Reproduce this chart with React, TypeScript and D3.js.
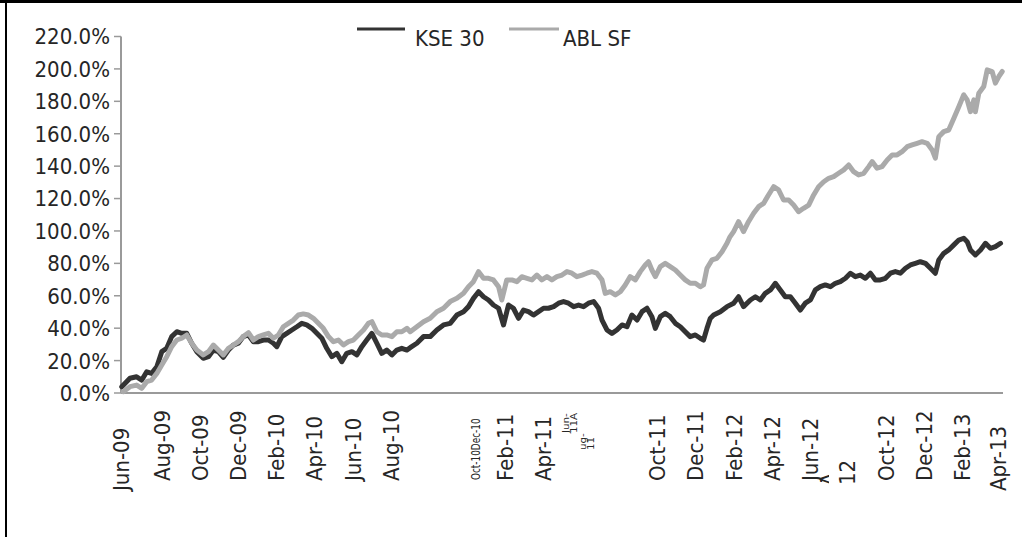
import React from "react";
import * as d3 from "d3";

// months elapsed since Jun-2009
const kseMonths = [0.04,0.47,0.82,1.09,1.35,1.61,1.88,2.14,2.40,2.66,2.93,3.19,3.45,3.71,3.98,4.32,4.59,4.85,5.11,5.37,5.64,5.90,6.16,6.42,6.69,6.95,7.21,7.47,7.74,8.00,8.18,8.44,8.70,8.97,9.23,9.49,9.75,10.02,10.28,10.54,10.80,11.07,11.33,11.59,11.85,12.12,12.38,12.64,12.90,13.17,13.43,13.69,13.95,14.22,14.48,14.74,15.01,15.18,15.53,15.88,16.23,16.58,16.93,17.28,17.63,17.98,18.24,18.50,18.77,19.03,19.29,19.55,19.82,20.08,20.34,20.60,20.87,21.13,21.39,21.65,21.92,22.18,22.44,22.71,22.97,23.23,23.49,23.76,24.02,24.28,24.54,24.81,25.07,25.25,25.51,25.77,26.03,26.30,26.56,26.82,27.09,27.35,27.61,27.87,28.05,28.31,28.57,28.83,29.10,29.36,29.62,29.88,30.15,30.41,30.58,30.76,30.93,31.11,31.46,31.81,32.16,32.42,32.68,33.04,33.30,33.56,33.82,34.09,34.35,34.61,34.87,35.14,35.40,35.66,35.92,36.19,36.45,36.71,36.97,37.24,37.50,37.76,38.03,38.29,38.55,38.81,39.08,39.34,39.60,39.86,40.13,40.39,40.65,40.91,41.18,41.44,41.70,41.96,42.23,42.49,42.75,42.93,43.19,43.45,43.72,43.98,44.24,44.42,44.59,44.85,45.12,45.38,45.64,45.90,46.17];
const kseValues = [3.9,9.1,10,8,13.1,12.1,16.2,25.5,27.6,34.8,37.8,36.8,36.8,30.7,25.5,21.4,22.4,26.5,25.5,22,26.5,29.6,30.7,34.8,35.8,31.7,31.7,32.7,32.7,30.7,28.6,34.8,36.8,38.9,40.9,43,42,39.9,36.8,33.8,27.6,22.4,24.5,19.3,24.5,25.5,23.5,28.6,32.7,36.8,30.7,24.5,26.5,23.5,26.5,27.6,26.5,28,30.7,34.8,34.8,38.9,42,43,48.1,50.2,53.3,58.4,62.5,59.4,57.4,54.3,52.3,42,54.3,52.3,46.1,51.2,50.2,48.1,50.2,52.3,52.3,53.3,55.4,56.4,55.4,53.3,54.3,53.3,55.4,56.4,52.3,45,38.9,36.8,38.9,42,40.9,48.1,45,50.2,52.3,47.1,39.9,47.1,49.2,47.1,43,40.9,37.8,34.8,35.8,33.8,32.7,39.9,46,48.1,50.2,53.3,55.4,59.4,53.3,57.4,59.4,57.4,61.5,63.6,67.7,63.6,59.4,59.4,55.4,51.2,55.4,57.4,63.6,65.6,66.7,65.6,67.7,68.7,70.8,73.9,71.8,72.8,70.8,73.9,69.8,69.8,70.8,73.9,74.9,73.9,77,79,80,81,80,77,73.9,82.1,86.2,88.3,91.4,94.4,95.5,93.4,88.3,85.2,88.3,92.4,89.3,90.3,92.4];

const ablMonths = [0.12,0.47,0.82,1.09,1.35,1.61,1.88,2.14,2.40,2.66,2.93,3.19,3.45,3.71,3.98,4.32,4.59,4.85,5.11,5.37,5.64,5.90,6.16,6.42,6.69,6.95,7.21,7.47,7.74,8.00,8.26,8.52,8.79,9.05,9.31,9.57,9.84,10.10,10.36,10.62,10.89,11.15,11.41,11.68,11.94,12.20,12.46,12.73,12.99,13.17,13.43,13.69,13.95,14.22,14.48,14.74,15.01,15.18,15.53,15.88,16.23,16.58,16.93,17.28,17.63,17.98,18.24,18.50,18.77,19.03,19.29,19.55,19.82,19.99,20.25,20.52,20.78,21.04,21.31,21.57,21.83,22.09,22.36,22.62,22.88,23.15,23.41,23.67,23.93,24.20,24.46,24.72,24.98,25.25,25.42,25.68,25.95,26.21,26.47,26.73,27.00,27.26,27.52,27.69,27.87,28.05,28.31,28.57,28.83,29.10,29.36,29.62,29.88,30.15,30.41,30.58,30.76,31.02,31.28,31.55,31.81,31.95,32.16,32.42,32.68,32.94,33.21,33.47,33.73,33.99,34.26,34.52,34.78,35.05,35.31,35.57,35.83,36.10,36.36,36.62,36.89,37.15,37.41,37.67,37.94,38.20,38.46,38.72,38.99,39.25,39.43,39.69,39.95,40.22,40.48,40.74,41.00,41.27,41.53,41.79,42.05,42.32,42.58,42.75,42.93,43.19,43.45,43.72,43.98,44.24,44.42,44.59,44.77,44.85,45.03,45.29,45.47,45.73,45.90,46.08,46.26];
const ablValues = [0.8,3.9,4.9,2.9,7,8,12.1,17.3,22.4,28.6,32.7,33.8,35.8,30.7,26.5,23.5,25.5,29.6,26.5,23.5,27.6,29.6,31.7,34.8,37.2,32.7,34.8,35.8,36.8,33.8,35.8,40.9,43,45,48.1,48.8,48.1,46.1,43,39.9,34.8,31.7,32.7,29.6,31.7,32.7,35.8,38.9,43,44,37.8,35.8,35.8,34.8,37.8,37.8,39.9,37.8,40.9,44,46.1,50.2,52.3,56.4,58.4,61.5,65.6,68.7,74.9,70.8,70.8,69.8,65.6,57.4,69.8,69.8,68.7,71.8,70.8,69.8,72.8,69.8,71.8,69.8,71.8,72.8,74.9,73.9,71.8,72.8,73.9,74.9,73.9,69.8,61.5,62.5,60.5,62.5,66.7,71.8,69.8,74.9,79,81,75.9,71.8,78,80,78,75.9,72.8,69.8,67.7,67.7,65.6,66.7,77,82.1,83.1,87.2,92.4,96,99.6,105.7,99.6,105.7,110.9,115,117,122.2,127.3,125.3,119.1,119.1,116,111.9,114,116,122.2,127.3,130.4,132.5,133.5,135.6,137.7,140.7,136.6,134.6,135.6,139.7,142.8,138.7,139.7,143.8,146.9,146.9,148.9,152,153.1,154.1,155.1,154.1,150,144.9,158.2,161.3,162.3,169.6,176.7,184,180.9,173.6,180.9,173.6,185,189.1,199.4,198.4,191.2,195.3,198.4];

const yTicks = [0, 20, 40, 60, 80, 100, 120, 140, 160, 180, 200, 220];
const tickMonths = [0, 2, 4, 6, 8, 10, 12, 14, 20, 22, 28, 30, 32, 34, 36, 40, 42, 44, 46];
const tickLabels = ["Jun-09","Aug-09","Oct-09","Dec-09","Feb-10","Apr-10","Jun-10","Aug-10","Feb-11","Apr-11","Oct-11","Dec-11","Feb-12","Apr-12","Jun-12","Oct-12","Dec-12","Feb-13","Apr-13"];
const seriesNames = ["KSE 30", "ABL SF"];

const FONT = "'DejaVu Sans Condensed', 'DejaVu Sans', sans-serif";

export default function App() {
  const x = d3.scaleLinear().domain([0, 46.3]).range([121, 1003]);
  const y = d3.scaleLinear().domain([0, 220]).range([393, 36.5]);
  const line = d3.line<[number, number]>().x(d => x(d[0])).y(d => y(d[1]));
  const kse = kseMonths.map((m, i) => [m, kseValues[i]] as [number, number]);
  const abl = ablMonths.map((m, i) => [m, ablValues[i]] as [number, number]);
  const axisColor = "#9a9a9a";
  const textColor = "#262626";

  const small = (label: string, m: number, yy: number, key: string) => (
    <text key={key} transform={`translate(${x(m)},${yy}) rotate(-90) scale(1.35,1)`} dy="0.36em" textAnchor="start" fontSize={8.5} fill={textColor}>{label}</text>
  );

  return (
    <svg width={1022} height={537} style={{ position: "absolute", left: 0, top: 0, background: "#fff" }} fontFamily={FONT}>
      <defs>
        <clipPath id="augclip"><rect x={818} y={471} width={11} height={16} /></clipPath>
      </defs>
      <rect x={0} y={0} width={1022} height={537} fill="#fff" />
      <line x1={0} x2={1022} y1={1.5} y2={1.5} stroke="#000" strokeWidth={3} />
      <line x1={6} x2={6} y1={0} y2={537} stroke="#000" strokeWidth={2} />

      {/* y axis */}
      <line x1={121} x2={121} y1={y(220)} y2={y(0)} stroke={axisColor} strokeWidth={2} />
      {yTicks.map(t => (
        <g key={t}>
          <line x1={114} x2={121} y1={y(t)} y2={y(t)} stroke={axisColor} strokeWidth={1.5} />
          <text x={110} y={y(t)} dy="0.36em" textAnchor="end" fontSize={22} fill={textColor}>{t.toFixed(1)}%</text>
        </g>
      ))}
      {/* x axis */}
      <line x1={121} x2={1003} y1={y(0)} y2={y(0)} stroke={axisColor} strokeWidth={2} />
      {tickMonths.map((m, i) => {
        const edge = i === 0 || i === tickMonths.length - 1;
        const yy = edge ? 491 : 481;
        const xx = x(m) + (edge ? 0.5 : 3);
        return (
          <text key={m} transform={`translate(${xx},${yy}) rotate(-90)`} dy="0.36em" textAnchor="start" fontSize={22} fill={textColor}>{tickLabels[i]}</text>
        );
      })}
      {/* squeezed labels */}
      <text transform={`translate(${x(18.6)},480) rotate(-90) scale(0.76,1)`} dy="0.36em" textAnchor="start" fontSize={13} fill={textColor}>Oct-10Dec-10</text>
      {small("Jun-", 23.35, 433, "a")}
      {small("11A", 23.8, 433, "b")}
      {small("ug-", 24.25, 450, "c")}
      {small("11", 24.65, 450, "d")}
      <g clipPath="url(#augclip)">
        <text transform={`translate(${x(37.1)},486) rotate(-90)`} dy="0.36em" textAnchor="start" fontSize={22} fill={textColor}>Aug-</text>
      </g>
      <text transform={`translate(${x(38.1)},485) rotate(-90)`} dy="0.36em" textAnchor="start" fontSize={22} fill={textColor}>12</text>

      {/* series */}
      <path d={line(kse) || ""} fill="none" stroke="#333333" strokeWidth={5} strokeLinejoin="round" strokeLinecap="round" />
      <path d={line(abl) || ""} fill="none" stroke="#aaaaaa" strokeWidth={5} strokeLinejoin="round" strokeLinecap="round" />

      {/* legend */}
      <line x1={357} x2={405} y1={29} y2={29} stroke="#333333" strokeWidth={3} />
      <text x={415} y={46} fontSize={22} fill={textColor}>{seriesNames[0]}</text>
      <line x1={509} x2={559} y1={29} y2={29} stroke="#aaaaaa" strokeWidth={3} />
      <text x={563} y={46} fontSize={22} fill={textColor}>{seriesNames[1]}</text>
    </svg>
  );
}
